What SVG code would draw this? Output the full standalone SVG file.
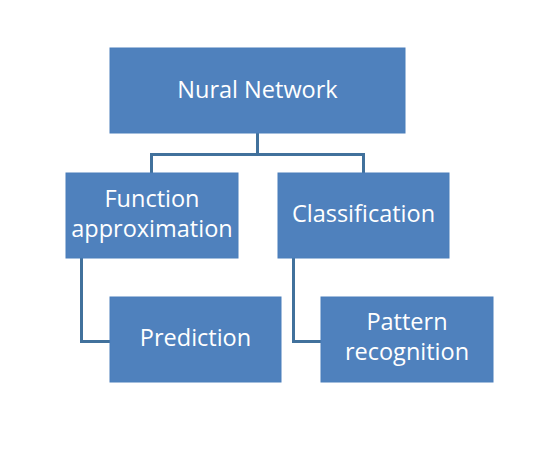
<svg xmlns="http://www.w3.org/2000/svg" width="546" height="456" viewBox="0 0 546 456">
<style>
.box{fill:#4F81BD;stroke:#4A7EBB;stroke-width:1}
.lbl{fill:#FFFFFF;font-family:"Open Sans","Liberation Sans",sans-serif;font-size:23.5px;text-anchor:middle}
.con{fill:none;stroke:#41719C;stroke-width:3}
</style>
<rect width="546" height="456" fill="#FFFFFF"/>
<g id="connectors">
<path class="con" d="M257.5 133 V154.5 H151.5 V173"/>
<path class="con" d="M257.5 154.5 H363.5 V173"/>
<path class="con" d="M81.5 258 V341.5 H110"/>
<path class="con" d="M293.5 258 V341.5 H321"/>
</g>
<g id="n-root">
<rect class="box" x="110" y="48" width="295" height="85"/>
<text class="lbl" x="257.5" y="98">Nural Network</text>
</g>
<g id="n-func">
<rect class="box" x="66" y="173" width="172" height="85"/>
<text class="lbl" x="152" y="207">Function</text>
<text class="lbl" x="152" y="237">approximation</text>
</g>
<g id="n-class">
<rect class="box" x="278" y="173" width="171" height="85"/>
<text class="lbl" x="363.5" y="222">Classification</text>
</g>
<g id="n-pred">
<rect class="box" x="110" y="297" width="171" height="85"/>
<text class="lbl" x="195.5" y="346">Prediction</text>
</g>
<g id="n-pattern">
<rect class="box" x="321" y="297" width="172" height="85"/>
<text class="lbl" x="407" y="330">Pattern</text>
<text class="lbl" x="407" y="360">recognition</text>
</g>
</svg>
